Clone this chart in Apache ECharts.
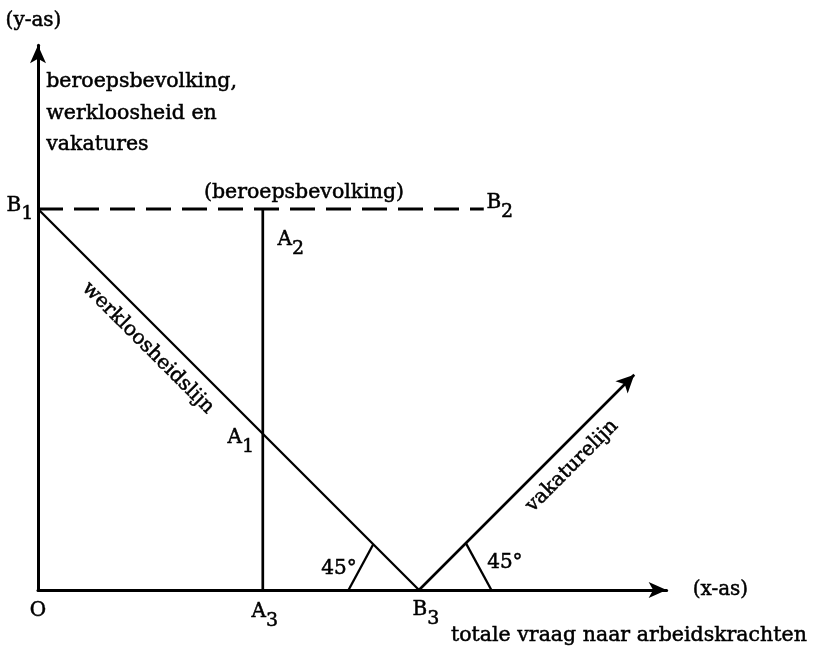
<!DOCTYPE html>
<html>
<head>
<meta charset="utf-8">
<title>Werkloosheidslijn en vakaturelijn</title>
<script src="https://cdn.jsdelivr.net/npm/echarts@6/dist/echarts.min.js"></script>
<style>
  html, body { margin: 0; padding: 0; background: #fff; }
  #chart { width: 813px; height: 650px; }
</style>
</head>
<body>
<div id="chart"></div>
<script>
// points of the figure, in units where the labour force (B1) = 100
var ptO  = [0, 0];
var ptB1 = [0, 100];
var ptB2 = [117, 100];
var ptA3 = [59, 0];
var ptA1 = [59, 41];
var ptA2 = [59, 100];
var ptB3 = [100, 0];
var ptVak = [156.5, 56.5];                 // end of the vakaturelijn
var angleLeft  = [[81.5, 0], [88, 12]];    // 45 degree marks
var angleRight = [[119, 0], [112.3, 12.3]];
var axisMax = [165, 143];

var FONT = '"DejaVu Serif", serif';
var INK = 0.5;  // a little stroke on the text, the print is heavy
var k = 3.81;   // px per unit, the same on both axes so 45 degrees stays 45

var chartDom = document.getElementById('chart');
var myChart = echarts.init(chartDom, null, { renderer: 'canvas' });

var rich = {
  m: { fontFamily: FONT, fontSize: 20, color: '#000', opacity: 1,
       textBorderColor: '#000', textBorderWidth: INK },
  s: { fontFamily: FONT, fontSize: 19, color: '#000', opacity: 1,
       textBorderColor: '#000', textBorderWidth: INK, padding: [18, 0, 0, 0] }
};

function lbl(text, pt, dx, dy) {
  return { value: pt, label: { formatter: text, offset: [dx, dy] } };
}

function seg(data, width) {
  return {
    type: 'line', data: data, symbol: 'none', silent: true,
    lineStyle: { color: '#000', width: width }
  };
}

function txt(extra) {
  var s = {
    fontFamily: FONT, fontSize: 20.5, fill: '#000',
    stroke: '#000', lineWidth: INK
  };
  for (var key in extra) s[key] = extra[key];
  return s;
}

var option = {
  backgroundColor: '#fff',
  animation: false,
  grid: {
    left: 38, bottom: 60,
    width: axisMax[0] * k, height: axisMax[1] * k,
    containLabel: false, outerBoundsMode: 'none'
  },
  xAxis: {
    type: 'value', min: 0, max: axisMax[0],
    name: '(x-as)', nameLocation: 'end', nameGap: 26,
    nameTextStyle: { fontFamily: FONT, fontSize: 20, color: '#000',
                     textBorderColor: '#000', textBorderWidth: INK },
    axisLine: {
      show: true, onZero: false, symbol: ['none', 'arrow'], symbolSize: [12, 18],
      lineStyle: { color: '#000', width: 3 }
    },
    axisTick: { show: false }, axisLabel: { show: false }, splitLine: { show: false }
  },
  yAxis: {
    type: 'value', min: 0, max: axisMax[1],
    name: '(y-as)', nameLocation: 'end', nameGap: 14,
    nameTextStyle: { fontFamily: FONT, fontSize: 20, color: '#000', padding: [0, 9, 0, 0],
                     textBorderColor: '#000', textBorderWidth: INK },
    axisLine: {
      show: true, onZero: false, symbol: ['none', 'arrow'], symbolSize: [12, 18],
      lineStyle: { color: '#000', width: 3 }
    },
    axisTick: { show: false }, axisLabel: { show: false }, splitLine: { show: false }
  },
  series: [
    seg([ptB1, ptB3], 2.3),                     // werkloosheidslijn
    seg([ptA3, ptA2], 2.7),                     // A3 - A2
    {
      type: 'line', data: [ptB1, ptB2], symbol: 'none', silent: true,
      lineStyle: { color: '#000', width: 2.8, type: [25, 11] }
    },
    seg(angleLeft, 2.3),
    seg(angleRight, 2.3),
    {
      type: 'line', data: [], silent: true,
      markLine: {
        silent: true, symbol: ['none', 'arrow'], symbolSize: [13, 18],
        label: { show: false },
        lineStyle: { color: '#000', width: 2.6, type: 'solid' },
        data: [[{ coord: ptB3 }, { coord: ptVak }]]
      }
    },
    {
      type: 'scatter', silent: true, symbolSize: 0,
      itemStyle: { color: '#000', opacity: 0 },
      label: {
        show: true, position: 'inside', align: 'center', verticalAlign: 'middle',
        fontFamily: FONT, fontSize: 20, color: '#000', opacity: 1,
        textBorderColor: '#000', textBorderWidth: INK, rich: rich
      },
      data: [
        lbl('{m|O}', ptO, 0, 21),
        lbl('{m|A}{s|3}', ptA3, 2, 22),
        lbl('{m|B}{s|3}', ptB3, 7, 20),
        lbl('{m|B}{s|1}', ptB1, -18, -3.5),
        lbl('{m|A}{s|1}', ptA1, -22, 4.5),
        lbl('{m|A}{s|2}', ptA2, 28, 31),
        lbl('{m|B}{s|2}', ptB2, 16, -6),
        lbl('{m|45°}', angleLeft[0], -9.5, -21.5),
        lbl('{m|45°}', angleRight[0], 13.5, -27.5)
      ]
    }
  ],
  graphic: [
    {
      type: 'text', left: 46, top: 66, silent: true,
      style: txt({ text: 'beroepsbevolking,\nwerkloosheid en\nvakatures', lineHeight: 31.5 })
    },
    {
      type: 'text', x: 304, y: 193, silent: true,
      style: txt({ text: '(beroepsbevolking)', align: 'center', verticalAlign: 'middle' })
    },
    {
      type: 'text', x: 148, y: 348, rotation: -Math.PI / 4, silent: true,
      style: txt({ text: 'werkloosheidslijn', align: 'center', verticalAlign: 'middle', fontSize: 20 })
    },
    {
      type: 'text', x: 572, y: 466, rotation: Math.PI / 4, silent: true,
      style: txt({ text: 'vakaturelijn', align: 'center', verticalAlign: 'middle', fontSize: 20 })
    },
    {
      type: 'text', x: 451, y: 636, silent: true,
      style: txt({ text: 'totale vraag naar arbeidskrachten', align: 'left', verticalAlign: 'middle' })
    }
  ]
};

if (option && typeof option === 'object') {
  myChart.setOption(option);
}
window.addEventListener('resize', myChart.resize);
</script>
</body>
</html>
